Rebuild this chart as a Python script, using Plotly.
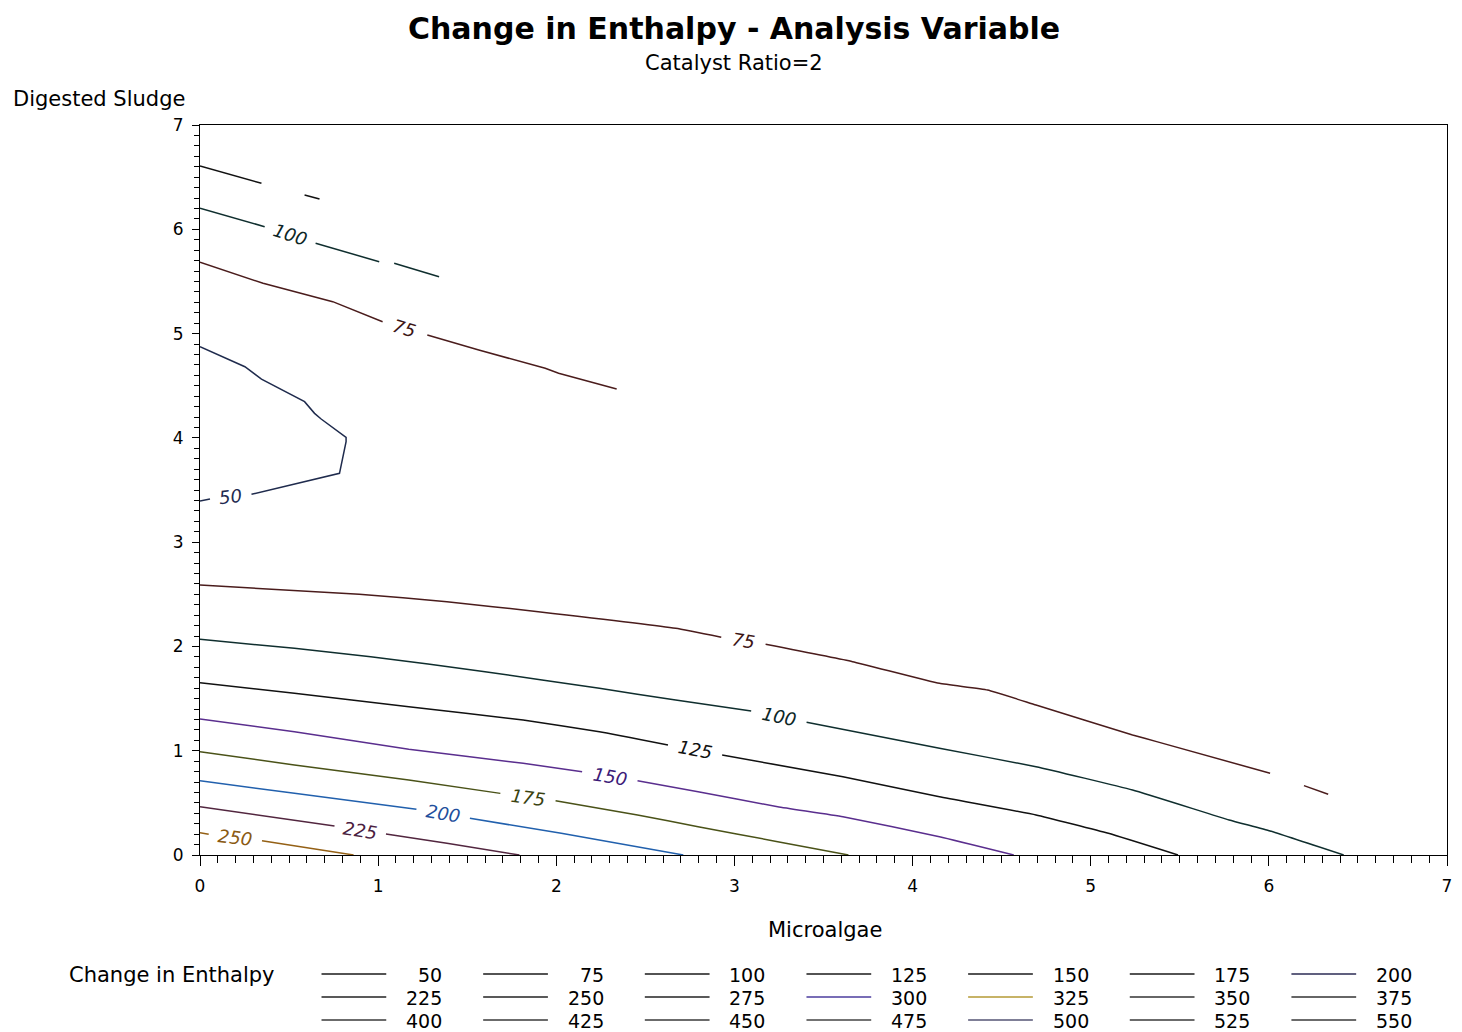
import math
import plotly.graph_objects as go

FIG_W, FIG_H = 1462, 1032
PLOT_L, PLOT_R, PLOT_T, PLOT_B = 200, 1452, 125, 855
X_RANGE = [0, 7]
Y_RANGE = [0, 7]
FONT = "DejaVu Sans"

# ---- contour paths (Microalgae, Digested Sludge); None breaks the line ----
c50_x = [0.0, 0.252, 0.345, 0.587, 0.643, 0.680, 0.820, 0.820, 0.783, 0.289, None, 0.056, 0.0]
c50_y = [4.874, 4.682, 4.564, 4.347, 4.235, 4.181, 4.005, 3.963, 3.660, 3.459, None, 3.414, 3.395]

c75_upper_x = [0.0, 0.354, 0.745, 1.025, None, 1.276, 1.565, 1.938, 2.013, 2.339]
c75_upper_y = [5.685, 5.482, 5.306, 5.114, None, 4.986, 4.842, 4.667, 4.619, 4.468]

c75_lower_x = [0.0, 0.894, 1.386, 1.899, 2.670, 2.926, None, 3.175, 3.663, 4.151, 4.421,
               4.693, 5.235, 5.370, 6.007, None, 6.197, 6.333]
c75_lower_y = [2.589, 2.500, 2.429, 2.333, 2.174, 2.088, None, 2.020, 1.854, 1.646, 1.582,
               1.438, 1.151, 1.087, 0.784, None, 0.665, 0.582]

c100_upper_x = [0.0, 0.363, None, 0.649, 1.006, None, 1.090, 1.342]
c100_upper_y = [6.201, 6.025, None, 5.866, 5.689, None, 5.674, 5.545]

c100_lower_x = [0.0, 0.530, 0.958, 1.600, 2.242, 2.670, 3.094, None, 3.405, 4.151, 4.693,
                5.235, 5.777, 6.007, 6.420]
c100_lower_y = [2.068, 1.982, 1.902, 1.758, 1.598, 1.486, 1.381, None, 1.272, 1.023, 0.847,
                0.623, 0.336, 0.230, 0.0]

c125_upper_x = [0.0, 0.345, None, 0.587, 0.671]
c125_upper_y = [6.607, 6.441, None, 6.329, 6.290]

c125_lower_x = [0.0, 0.530, 1.172, 1.814, 2.242, 2.627, None, 2.931, 3.609, 4.151, 4.693,
                5.099, 5.490]
c125_lower_y = [1.652, 1.551, 1.422, 1.294, 1.182, 1.055, None, 0.959, 0.751, 0.559, 0.384,
                0.208, 0.0]

c150_x = [0.0, 0.530, 1.172, 1.814, 2.145, None, 2.456, 2.796, 3.243, 3.609, 4.151, 4.568]
c150_y = [1.304, 1.182, 1.014, 0.879, 0.799, None, 0.712, 0.607, 0.463, 0.367, 0.175, 0.0]

c175_x = [0.0, 0.530, 1.172, 1.686, None, 1.996, 2.456, 2.796, 3.243, 3.640]
c175_y = [0.991, 0.863, 0.719, 0.591, None, 0.521, 0.384, 0.271, 0.128, 0.0]

c200_x = [0.0, 0.530, 1.215, None, 1.515, 2.028, 2.713]
c200_y = [0.712, 0.592, 0.438, None, 0.352, 0.208, 0.0]

c225_x = [0.0, 0.755, None, 1.044, 1.386, 1.793]
c225_y = [0.463, 0.278, None, 0.201, 0.112, 0.0]

c250_x = [0.0, 0.049, None, 0.348, 0.862]
c250_y = [0.214, 0.198, None, 0.137, 0.0]

# level, path x, path y, indices of the breaks that carry the level label, smoothed?
CONTOURS = [
    (50, c50_x, c50_y, [0], False),
    (75, c75_upper_x, c75_upper_y, [0], False),
    (75, c75_lower_x, c75_lower_y, [0], True),
    (100, c100_upper_x, c100_upper_y, [0], False),
    (100, c100_lower_x, c100_lower_y, [0], True),
    (125, c125_upper_x, c125_upper_y, [], False),
    (125, c125_lower_x, c125_lower_y, [0], True),
    (150, c150_x, c150_y, [0], True),
    (175, c175_x, c175_y, [0], True),
    (200, c200_x, c200_y, [0], True),
    (225, c225_x, c225_y, [0], True),
    (250, c250_x, c250_y, [0], True),
]

LINE_COLOR = {50: "#1f2b4d", 75: "#4a1c1c", 100: "#0f2e2e", 125: "#111111",
              150: "#5a2e8e", 175: "#4a5218", 200: "#2160ad", 225: "#52263f",
              250: "#946015"}
LABEL_COLOR = {50: "#1e2b50", 75: "#3d1515", 100: "#0c2626", 125: "#111111",
               150: "#3b1a78", 175: "#3a4210", 200: "#1f4f9c", 225: "#4a2040",
               250: "#8a5a12"}

# ---- legend entries (7 columns x 3 rows) ----
LEGEND_LEVELS = [50, 75, 100, 125, 150, 175, 200,
                 225, 250, 275, 300, 325, 350, 375,
                 400, 425, 450, 475, 500, 525, 550]
LEGEND_COLORS = ["#1a1a1a", "#1a1a1a", "#1a1a1a", "#1a1a1a", "#1a1a1a", "#1a1a1a", "#2b2b55",
                 "#222222", "#222222", "#222222", "#4b3c9e", "#b59a35", "#333333", "#333333",
                 "#3a3a3a", "#3a3a3a", "#3a3a3a", "#444444", "#555575", "#3a3a3a", "#3a3a3a"]


def paper_x(px):
    return (px - PLOT_L) / (PLOT_R - PLOT_L)


def paper_y(py):
    return (PLOT_B - py) / (PLOT_B - PLOT_T)


SX = (PLOT_R - PLOT_L) / (X_RANGE[1] - X_RANGE[0])
SY = (PLOT_B - PLOT_T) / (Y_RANGE[1] - Y_RANGE[0])

fig = go.Figure()
annotations = []
shapes = []

for level, xs, ys, label_breaks, smooth in CONTOURS:
    line = dict(color=LINE_COLOR[level], width=1.5)
    if smooth:
        line.update(shape="spline", smoothing=0.35)
    fig.add_trace(go.Scatter(
        x=xs, y=ys, mode="lines", connectgaps=False, line=line,
        showlegend=False, hoverinfo="skip",
    ))
    breaks = [i for i, v in enumerate(xs) if v is None]
    for b in label_breaks:
        i = breaks[b]
        x0, y0, x1, y1 = xs[i - 1], ys[i - 1], xs[i + 1], ys[i + 1]
        dx = (x1 - x0) * SX
        dy = -(y1 - y0) * SY
        ang = math.degrees(math.atan2(dy, dx))
        if ang > 90:
            ang -= 180
        elif ang < -90:
            ang += 180
        annotations.append(dict(
            x=(x0 + x1) / 2, y=(y0 + y1) / 2, xref="x", yref="y",
            text=str(level), showarrow=False, textangle=ang,
            xanchor="center", yanchor="middle",
            font=dict(family=FONT, size=18, color=LABEL_COLOR[level], style="italic"),
        ))

# titles and axis captions
annotations += [
    dict(x=paper_x(736), y=paper_y(28), xref="paper", yref="paper",
         text="Change in Enthalpy - Analysis Variable", showarrow=False,
         xanchor="center", yanchor="middle",
         font=dict(family=FONT, size=30, color="black", weight="bold")),
    dict(x=paper_x(736), y=paper_y(63), xref="paper", yref="paper",
         text="Catalyst Ratio=2", showarrow=False, xanchor="center", yanchor="middle",
         font=dict(family=FONT, size=21, color="black")),
    dict(x=paper_x(10), y=paper_y(99), xref="paper", yref="paper",
         text="Digested Sludge", showarrow=False, xanchor="left", yanchor="middle",
         font=dict(family=FONT, size=21, color="black")),
    dict(x=paper_x(828), y=paper_y(930), xref="paper", yref="paper",
         text="Microalgae", showarrow=False, xanchor="center", yanchor="middle",
         font=dict(family=FONT, size=21, color="black")),
    dict(x=paper_x(66), y=paper_y(975), xref="paper", yref="paper",
         text="Change in Enthalpy", showarrow=False, xanchor="left", yanchor="middle",
         font=dict(family=FONT, size=21, color="black")),
]

# legend grid
for k, (lvl, col) in enumerate(zip(LEGEND_LEVELS, LEGEND_COLORS)):
    r, c = divmod(k, 7)
    ypix = 974 + 23 * r
    x0 = 322 + 162.3 * c
    shapes.append(dict(type="line", xref="paper", yref="paper",
                       x0=paper_x(x0), x1=paper_x(x0 + 65),
                       y0=paper_y(ypix), y1=paper_y(ypix),
                       line=dict(color=col, width=1.5)))
    annotations.append(dict(x=paper_x(x0 + 123), y=paper_y(ypix + 1), xref="paper", yref="paper",
                            text=str(lvl), showarrow=False, xanchor="right", yanchor="middle",
                            font=dict(family=FONT, size=19, color="black")))

axis_common = dict(
    showgrid=False, zeroline=False, showline=True, linecolor="black", linewidth=1,
    mirror=True, ticks="outside", tickcolor="black", tickwidth=1,
    tick0=0, dtick=1, tickfont=dict(family=FONT, size=17, color="black"),
)

fig.update_layout(
    width=FIG_W, height=FIG_H,
    margin=dict(l=PLOT_L, r=FIG_W - PLOT_R, t=PLOT_T, b=FIG_H - PLOT_B),
    paper_bgcolor="white", plot_bgcolor="white",
    showlegend=False,
    xaxis=dict(range=X_RANGE, ticklen=10, ticklabelstandoff=6,
               minor=dict(dtick=0.1, ticklen=7, ticks="outside", tickcolor="black", tickwidth=1),
               **axis_common),
    yaxis=dict(range=Y_RANGE, ticklen=7, ticklabelstandoff=5,
               minor=dict(dtick=0.1, ticklen=5, ticks="outside", tickcolor="black", tickwidth=1),
               **axis_common),
    annotations=annotations,
    shapes=shapes,
)

fig.write_html("out.html")
